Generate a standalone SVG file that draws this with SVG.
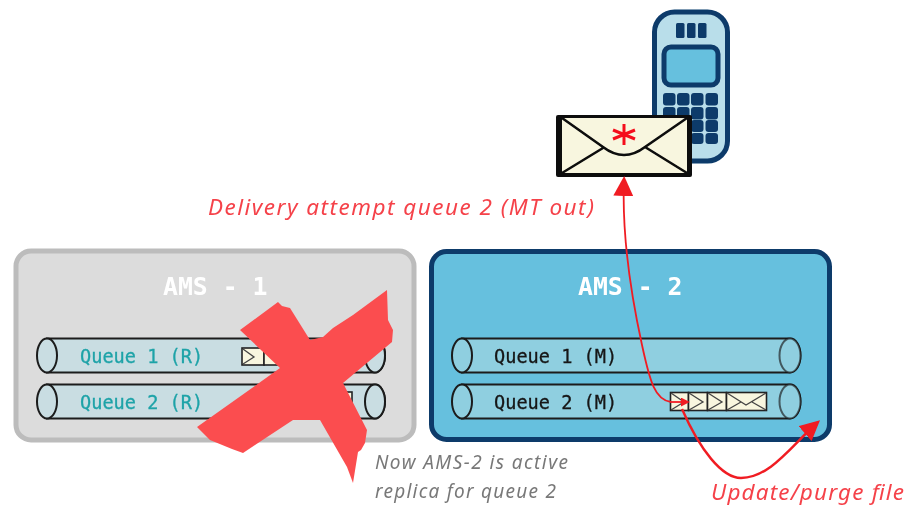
<svg xmlns="http://www.w3.org/2000/svg" width="906" height="507" viewBox="0 0 906 507">
<style>
text{font-family:"Noto Sans","Liberation Sans",sans-serif}
.title{font-family:"DejaVu Sans Mono","Liberation Mono",monospace;font-size:24.800px;font-weight:700;fill:#fff}
.q{font-family:"DejaVu Sans Mono","Liberation Mono",monospace;font-size:18.600px;stroke-width:.3}
.qr{fill:#1fa3a8;stroke:#1fa3a8}
.qm{fill:#151515;stroke:#151515}
.red{font-size:22.500px;font-style:italic;fill:#f5424a}
.note{font-size:19px;font-style:italic;fill:#787878}
.tube{stroke:#1a1a1a;stroke-width:2}
.env{fill:#f8f6df;stroke:#222;stroke-width:1.6}
.fold{fill:none;stroke:#444;stroke-width:1.3}
.key{fill:#0c3a6a}
</style>
<defs>
<filter id="soft" x="0" y="0" width="906" height="507" filterUnits="userSpaceOnUse"><feGaussianBlur stdDeviation="0.45"/></filter>
<marker id="ah" viewBox="0 0 10 10" refX="8" refY="5" markerWidth="9" markerHeight="9" markerUnits="userSpaceOnUse" orient="auto"><path d="M0 0L10 5L0 10Z" fill="#f01c24"/></marker>
<marker id="ahb" viewBox="0 0 10 10" refX="8" refY="5" markerWidth="20" markerHeight="20" markerUnits="userSpaceOnUse" orient="auto"><path d="M0 0L10 5L0 10Z" fill="#f01c24"/></marker>
</defs>
<g filter="url(#soft)">
<g id="phone">
<rect x="654.500" y="12" width="73" height="149" rx="20" fill="#b9deea" stroke="#0c3a6a" stroke-width="5"/>
<rect x="676" y="23" width="8.500" height="15" rx="1.500" class="key"/><rect x="687" y="23" width="8.500" height="15" rx="1.500" class="key"/><rect x="698" y="23" width="8.500" height="15" rx="1.500" class="key"/>
<rect x="664" y="47" width="54" height="38" rx="7" fill="#66c0de" stroke="#0c3a6a" stroke-width="5"/>
<g class="key">
<rect x="663" y="93" width="12.500" height="12.500" rx="3"/><rect x="677" y="93" width="12.500" height="12.500" rx="3"/><rect x="691" y="93" width="12.500" height="12.500" rx="3"/><rect x="705.500" y="93" width="12.500" height="12.500" rx="3"/>
<rect x="663" y="107" width="12.500" height="12.500" rx="3"/><rect x="677" y="107" width="12.500" height="12.500" rx="3"/><rect x="691" y="107" width="12.500" height="12.500" rx="3"/><rect x="705.500" y="107" width="12.500" height="12.500" rx="3"/>
<rect x="691" y="120" width="12.500" height="12" rx="3"/><rect x="705.500" y="120" width="12.500" height="12" rx="3"/>
<rect x="691" y="133" width="12.500" height="11" rx="3"/><rect x="705.500" y="133" width="12.500" height="11" rx="3"/>
</g>
</g>

<g id="mail">
<rect x="556" y="115" width="136" height="62" rx="2" fill="#0a0a0a"/>
<rect x="562" y="118" width="125" height="55" fill="#f8f6df"/>
<path d="M562 118L603 147Q624 163 645 147L687 118M562 173L603 148M687 173L645 147" fill="none" stroke="#0a0a0a" stroke-width="2.500"/>
<path d="M624 124V145M613 130L635 139M635 130L613 139" fill="none" stroke="#f5101c" stroke-width="3"/>
</g>

<g id="ams1">
<rect x="16" y="251" width="398" height="189" rx="15" fill="#dcdcdc" stroke="#bcbcbc" stroke-width="5"/>
<text class="title" x="163" y="295">AMS - 1</text>
</g>
<g id="ams1-q1">
<path class="tube" d="M47 338.500H375A10 17 0 0 1 375 372.500H47Z" fill="#c9dde2"/>
<ellipse class="tube" cx="47" cy="355.500" rx="10" ry="17" fill="#c9dde2"/>
<ellipse class="tube" cx="375" cy="355.500" rx="10" ry="17" fill="#c9dde2"/>
<text class="q qr" x="80" y="363">Queue 1 (R)</text>
<rect class="env" x="242" y="348" width="22" height="17"/><path class="fold" d="M243 349L254 357L243 364"/>
<rect class="env" x="264" y="348" width="20" height="17"/>
</g>
<g id="ams1-q2">
<path class="tube" d="M47 384.500H375A10 17 0 0 1 375 418.500H47Z" fill="#c9dde2"/>
<ellipse class="tube" cx="47" cy="401.500" rx="10" ry="17" fill="#c9dde2"/>
<ellipse class="tube" cx="375" cy="401.500" rx="10" ry="17" fill="#c9dde2"/>
<text class="q qr" x="80" y="409">Queue 2 (R)</text>
<rect class="env" x="330" y="392" width="22" height="18"/>
</g>

<g id="ams2">
<rect x="431.500" y="251.500" width="398" height="188" rx="15" fill="#66c0de" stroke="#0c3a6a" stroke-width="5"/>
<text class="title" x="578" y="295">AMS - 2</text>
</g>
<g id="ams2-q1">
<path class="tube" d="M462 338.500H790A10.500 17 0 0 1 790 372.500H462Z" fill="#8fcfe0"/>
<ellipse class="tube" cx="462" cy="355.500" rx="10" ry="17" fill="#8fcfe0"/>
<ellipse class="tube" cx="790" cy="355.500" rx="10.500" ry="17" fill="#8fcfe0" stroke-opacity=".65"/>
<text class="q qm" x="494" y="363">Queue 1 (M)</text>
</g>
<g id="ams2-q2">
<path class="tube" d="M462 384.500H790A10.500 17 0 0 1 790 418.500H462Z" fill="#8fcfe0"/>
<ellipse class="tube" cx="462" cy="401.500" rx="10" ry="17" fill="#8fcfe0"/>
<ellipse class="tube" cx="790" cy="401.500" rx="10.500" ry="17" fill="#8fcfe0" stroke-opacity=".65"/>
<text class="q qm" x="494" y="409">Queue 2 (M)</text>
<rect class="env" x="670.500" y="392.500" width="18" height="18"/><path class="fold" d="M671 393L684 402L671 410"/>
<rect class="env" x="688.500" y="392.500" width="19" height="18"/><path class="fold" d="M689 393L703 402L689 410"/>
<rect class="env" x="707.500" y="392.500" width="19" height="18"/><path class="fold" d="M708 393L722 402L708 410"/>
<rect class="env" x="726.500" y="392.500" width="40" height="18"/><path class="fold" d="M727 393L746 405L766 393M727 410L741 402M766 410L752 402"/>
</g>

<g id="connectors" fill="none" stroke="#f01c24" stroke-width="1.800">
<path d="M671 402C655 400 650 382 642 345C630 290 622 230 624 180" marker-end="url(#ahb)"/>
<path d="M671 402L688 402" marker-end="url(#ah)"/>
<path d="M682 409C700 450 722 478 741 478C770 478 792 445 817 423" stroke-width="2.400" marker-end="url(#ahb)"/>
</g>

<g id="cross"><path fill="#fb4e50" d="M278 302L282 306L290 308L310 340L323 337L333 328L353 315L387 290L388 320L393 330L392 342L343 383L367 430L365 443L361 450L358 452L353 483L347 467L320 420L293 420L243 453L232 449L210 440L197 427L280 368L240 330Z"/></g>

<g id="labels">
<text class="red" x="208" y="215" textLength="386">Delivery attempt queue 2 (MT out)</text>
<text class="red" x="711" y="500" textLength="193">Update/purge file</text>
<text class="note" x="375" y="469" textLength="193">Now AMS-2 is active</text>
<text class="note" x="375" y="498" textLength="181">replica for queue 2</text>
</g>
</g>
</svg>
